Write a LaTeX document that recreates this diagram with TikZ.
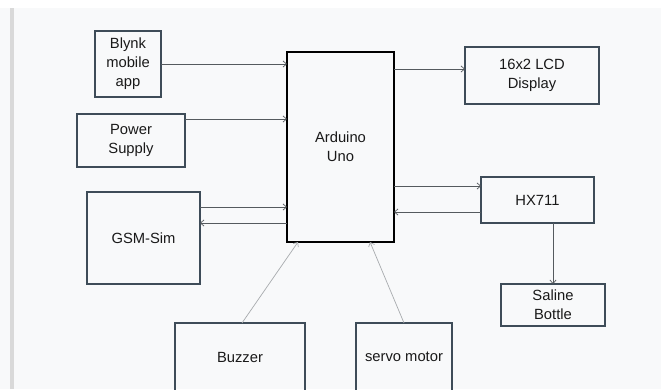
\documentclass[tikz,border=0pt]{standalone}
\usepackage{fontspec}
\setmainfont{Liberation Sans}
\usepackage{tikz}
\usetikzlibrary{arrows.meta, positioning, calc}
\definecolor{boxline}{HTML}{3E4C58}
\definecolor{wire}{HTML}{555A5E}
\definecolor{faintwire}{HTML}{A8ABAE}
\definecolor{paper}{HTML}{F8F9FA}
\tikzset{block/.style={rectangle,draw=boxline,line width=0.9pt,align=center,
      inner sep=0pt,outer sep=0pt,font=\fontsize{10.5}{13.6}\selectfont,text=black!90},
    mcu/.style={block,draw=black,line width=1.3pt},
    link/.style={draw=wire,line width=0.5pt,-{Straight Barb[length=2.5pt,width=4.5pt]}},
    faint link/.style={link,draw=faintwire}}

\begin{document}
\begin{tikzpicture}[x=0.025cm, y=-0.025cm]
  % Page
  \useasboundingbox (0,0) rectangle (661,389);
  \fill[paper] (0,8) rectangle (661,389);
  \fill[white] (0,0) rectangle (661,8);
  \fill[black!15] (10,8) rectangle (14,389);

  % Nodes
  \node[mcu, minimum width=2.675cm, minimum height=4.75cm] (ard) at (340.5,147) {Arduino\\Uno};
  \node[block, minimum width=1.65cm, minimum height=1.65cm] (blynk) at (128,64) {Blynk\\mobile\\app};
  \node[block, minimum width=2.7cm, minimum height=1.325cm] (power) at (131,140.5) {Power\\Supply};
  \node[block, minimum width=2.825cm, minimum height=2.3cm] (gsm) at (143.5,238) {GSM-Sim};
  \node[block, minimum width=3.25cm, minimum height=1.7cm] (buzzer) at (240,357) {Buzzer};
  \node[block, minimum width=2.4cm, minimum height=1.7cm] (servo) at (404,357) {servo motor};
  \node[block, minimum width=3.35cm, minimum height=1.425cm] (lcd) at (532,75.5) {16x2 LCD\\Display};
  \node[block, minimum width=2.825cm, minimum height=1.15cm] (hx) at (537.5,200) {HX711};
  \node[block, minimum width=2.6cm, minimum height=1.05cm] (saline) at (553,305) {Saline\\Bottle};

  % Attach points
  \coordinate (ps) at ($(power.east)+(0,-21.5)$);
  \coordinate (gsmin) at ($(gsm.east)+(0,-31)$);
  \coordinate (gsmout) at ($(gsm.east)+(0,-15)$);
  \coordinate (lcdin) at ($(lcd.west)+(0,-6.5)$);
  \coordinate (hxin) at ($(hx.west)+(0,-14)$);
  \coordinate (hxout) at ($(hx.west)+(0,12)$);
  \coordinate (bz) at ($(ard.south west)+(11,0)$);
  \coordinate (sv) at ($(ard.south east)+(-24,0)$);

  % Straight edges
  \draw[link] (blynk.east) -- (blynk.east -| ard.west);
  \draw[link] (ps) -- (ps -| ard.west);
  \draw[link] (gsmin) -- (gsmin -| ard.west);
  \draw[link] (gsmout -| ard.west) -- (gsmout);
  \draw[link] (lcdin -| ard.east) -- (lcdin);
  \draw[link] (hxin -| ard.east) -- (hxin);
  \draw[link] (hxout) -- (hxout -| ard.east);
  \draw[link] (hx.south -| saline.north) -- (saline.north);

  % Slanted edges
  \draw[faint link] ($(buzzer.north)+(2,0)$) -- (bz);
  \draw[faint link] (servo.north) -- (sv);

\end{tikzpicture}
\end{document}
